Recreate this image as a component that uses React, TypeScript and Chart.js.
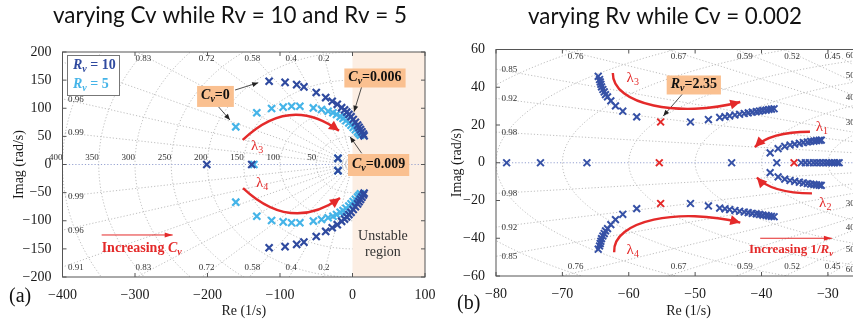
import { useEffect, useRef } from 'react';
import { Chart, registerables } from 'chart.js';

Chart.register(...registerables);

// ---------------- Panel (a): varying Cv while Rv = 10 and Rv = 5 ----------------
const rv10BranchRe = [-115, -93, -77, -67, -50, -37, -28, -21, -15, -11, -8, -5, -2, 1, 4, 7, 9, 11, 13, 15, 16];
const rv10BranchIm = [148, 146, 142, 138, 128, 119, 112.5, 107, 101, 97, 93, 89, 85, 80, 75, 70, 66, 62, 58, 54, 51];
const rv10PairRe = [-20];
const rv10PairIm = [11];
const rv10RealRe = [-201, -139];

const rv5BranchRe = [-161, -132, -111.6, -95.6, -84, -72.6, -54, -42.7, -33.6, -27, -22, -17, -13, -9, -5, -2, 1, 4, 7, 9, 11];
const rv5BranchIm = [67, 92, 99.5, 102, 103.6, 103.6, 100.6, 97.7, 94.7, 92, 89, 85, 82, 78, 74, 70, 66, 62, 58, 55, 52];
const rv5PairRe = [-20];
const rv5PairIm = [11];
const rv5RealRe = [-136];

const aXTicks = [-400, -300, -200, -100, 0, 100];
const aYTicks = [-200, -150, -100, -50, 0, 50, 100, 150, 200];
const aZetas = [0.2, 0.4, 0.58, 0.72, 0.83, 0.91, 0.96, 0.99];
const aWns = [50, 100, 150, 200, 250, 300, 350, 400];

// ---------------- Panel (b): varying Rv while Cv = 0.002 ----------------
const l3Re = [-64.6, -64.4, -64.3, -64.2, -64.1, -63.9, -63.7, -63.5, -63.2, -62.7, -62, -60.9, -58.8, -50.7, -48, -46.3, -45.5, -44.8, -44, -43.3, -42.6, -42, -41.4, -40.8, -40.3, -39.8, -39.3, -38.9, -38.5, -38.1];
const l3Im = [45.8, 44.1, 42.8, 41.6, 40.2, 38.8, 37.5, 36.1, 34.9, 32.8, 30.1, 27.3, 24.3, 21.6, 22.9, 24, 24.4, 24.8, 25.3, 25.7, 26.1, 26.4, 26.8, 27.1, 27.4, 27.7, 27.9, 28.2, 28.4, 28.6];
const l1Re = [-38.7, -37.5, -36.5, -35.7, -35, -34.3, -33.7, -33.1, -32.6, -32.1, -31.7, -31.3, -31];
const l1Im = [5.2, 7.5, 8.7, 9.4, 9.9, 10.3, 10.7, 11, 11.3, 11.5, 11.7, 11.9, 12];
const rvRealRe = [-78.4, -73.3, -66.3, -44.5, -37.7, -34, -33.4, -32.8, -32.2, -31.7, -31.2, -30.7, -30.2, -29.8, -29.4, -29, -28.6, -28.3];
const redPairRe = [-55.2];
const redPairIm = [21.6];
const redRealRe = [-55.4, -35.1];

const bXTicks = [-80, -70, -60, -50, -40, -30];
const bYTicks = [-60, -40, -20, 0, 20, 40, 60];
const bZetas = [0.45, 0.52, 0.59, 0.67, 0.76, 0.85, 0.92, 0.98];
const bWns = [10, 20, 30, 40, 50, 60, 70, 80, 90, 100];
const bWnLabels = [30, 40, 50, 60];

// ---------------- styles ----------------
const DARK = '#2F4A9F';
const LIGHT = '#45B4E8';
const BLUE_B = '#3651A6';
const RED = '#E42A2A';
const ORANGE = '#FAC090';
const SERIF = '"Liberation Serif", "Times New Roman", serif';
const SANS = 'Lato, "Open Sans", sans-serif';

type Seg = { t: string; it?: boolean; b?: boolean; sub?: boolean };

function pts(re: number[], im: number[]) {
  return re.map((r, i) => ({ x: r, y: im[i] }));
}
function conjPts(re: number[], im: number[]) {
  return [...pts(re, im), ...pts(re, im.map((v) => -v))];
}
function realPts(re: number[]) {
  return re.map((r) => ({ x: r, y: 0 }));
}
function fmtTick(v: number) {
  return v < 0 ? '\u2212' + Math.abs(v) : String(v);
}

function segFont(s: Seg, size: number) {
  return `${s.it ? 'italic ' : ''}${s.b ? 'bold ' : ''}${s.sub ? Math.round(size * 0.68) : size}px ${SERIF}`;
}
function richWidth(ctx: any, segs: Seg[], size: number) {
  let w = 0;
  for (const s of segs) {
    ctx.font = segFont(s, size);
    w += ctx.measureText(s.t).width;
  }
  return w;
}
function drawRich(ctx: any, segs: Seg[], x: number, y: number, size: number, color: string, align = 'left') {
  const w = richWidth(ctx, segs, size);
  let cx = align === 'center' ? x - w / 2 : align === 'right' ? x - w : x;
  ctx.fillStyle = color;
  ctx.textBaseline = 'middle';
  ctx.textAlign = 'left';
  for (const s of segs) {
    ctx.font = segFont(s, size);
    ctx.fillText(s.t, cx, y + (s.sub ? size * 0.3 : 0));
    cx += ctx.measureText(s.t).width;
  }
  return w;
}
function arrowHead(ctx: any, x: number, y: number, ang: number, len: number, half: number, color: string) {
  ctx.save();
  ctx.translate(x, y);
  ctx.rotate(ang);
  ctx.beginPath();
  ctx.moveTo(0, 0);
  ctx.lineTo(-len, half);
  ctx.lineTo(-len, -half);
  ctx.closePath();
  ctx.fillStyle = color;
  ctx.fill();
  ctx.restore();
}
function helpers(chart: any) {
  const xs = chart.scales.x;
  const ys = chart.scales.y;
  return {
    X: (v: number) => xs.getPixelForValue(v),
    Y: (v: number) => ys.getPixelForValue(v),
    xs,
    ys,
  };
}
function lineArrow(chart: any, p0: number[], p1: number[], color: string, lw: number, len: number, half: number) {
  const { ctx } = chart;
  const { X, Y } = helpers(chart);
  const x0 = X(p0[0]), y0 = Y(p0[1]), x1 = X(p1[0]), y1 = Y(p1[1]);
  ctx.save();
  ctx.strokeStyle = color;
  ctx.lineWidth = lw;
  ctx.beginPath();
  ctx.moveTo(x0, y0);
  ctx.lineTo(x1, y1);
  ctx.stroke();
  arrowHead(ctx, x1, y1, Math.atan2(y1 - y0, x1 - x0), len, half, color);
  ctx.restore();
}
function curveArrow(chart: any, p: number[][], color: string) {
  const { ctx } = chart;
  const { X, Y } = helpers(chart);
  const q = p.map((v) => [X(v[0]), Y(v[1])]);
  ctx.save();
  ctx.strokeStyle = color;
  ctx.lineWidth = 2.4;
  ctx.beginPath();
  ctx.moveTo(q[0][0], q[0][1]);
  if (q.length === 3) ctx.quadraticCurveTo(q[1][0], q[1][1], q[2][0], q[2][1]);
  else ctx.bezierCurveTo(q[1][0], q[1][1], q[2][0], q[2][1], q[3][0], q[3][1]);
  ctx.stroke();
  const e = q[q.length - 1], c = q[q.length - 2];
  arrowHead(ctx, e[0], e[1], Math.atan2(e[1] - c[1], e[0] - c[0]), 10, 5, color);
  ctx.restore();
}
function orangeBox(chart: any, segs: Seg[], cx: number, cy: number, h: number) {
  const { ctx } = chart;
  const { X, Y } = helpers(chart);
  const px = X(cx), py = Y(cy);
  const w = richWidth(ctx, segs, 14) + 8;
  ctx.save();
  ctx.fillStyle = ORANGE;
  ctx.fillRect(px - w / 2, py - h / 2, w, h);
  drawRich(ctx, segs, px, py - 1, 14, '#111', 'center');
  ctx.restore();
}

function drawSGrid(chart: any, zetas: number[], wns: number[]) {
  const { ctx, chartArea: ca } = chart;
  const { X, Y } = helpers(chart);
  ctx.save();
  ctx.beginPath();
  ctx.rect(ca.left, ca.top, ca.width, ca.height);
  ctx.clip();
  ctx.strokeStyle = '#b8b8b8';
  ctx.lineWidth = 0.9;
  ctx.setLineDash([1.2, 2]);
  const R = 1000;
  for (const z of zetas) {
    const s = Math.sqrt(1 - z * z);
    for (const sg of [1, -1]) {
      ctx.beginPath();
      ctx.moveTo(X(0), Y(0));
      ctx.lineTo(X(-z * R), Y(sg * s * R));
      ctx.stroke();
    }
  }
  for (const r of wns) {
    ctx.beginPath();
    for (let k = 0; k <= 180; k++) {
      const a = Math.PI / 2 + (k * Math.PI) / 180;
      const px = X(r * Math.cos(a)), py = Y(r * Math.sin(a));
      if (k) ctx.lineTo(px, py);
      else ctx.moveTo(px, py);
    }
    ctx.stroke();
  }
  ctx.strokeStyle = '#8a97cc';
  ctx.beginPath();
  ctx.moveTo(ca.left, Y(0));
  ctx.lineTo(ca.right, Y(0));
  ctx.stroke();
  ctx.restore();
}

function drawZetaLabels(chart: any, zetas: number[]) {
  const { ctx, chartArea: ca } = chart;
  const { X, Y, xs, ys } = helpers(chart);
  ctx.save();
  ctx.font = `9px ${SERIF}`;
  ctx.fillStyle = '#333';
  ctx.textBaseline = 'middle';
  for (const z of zetas) {
    const t = Math.sqrt(1 - z * z) / z;
    for (const sg of [1, -1]) {
      const yEdge = sg > 0 ? ys.max : ys.min;
      const xInt = -Math.abs(yEdge) / t;
      if (xInt >= xs.min) {
        const yd = ys.getValueForPixel(sg > 0 ? ca.top + 3.5 : ca.bottom - 3.5);
        const xd = -Math.abs(yd) / t;
        ctx.textAlign = 'center';
        ctx.fillText(String(z), X(xd), sg > 0 ? ca.top + 7 : ca.bottom - 9);
      } else {
        const yl = sg * t * Math.abs(xs.min);
        ctx.textAlign = 'left';
        ctx.fillText(String(z), ca.left + 5.5, Y(yl) + 0.5);
      }
    }
  }
  ctx.restore();
}

function drawFrame(chart: any, xTicks: number[], yTicks: number[]) {
  const { ctx, chartArea: ca } = chart;
  const { X, Y } = helpers(chart);
  ctx.save();
  ctx.strokeStyle = '#555';
  ctx.lineWidth = 1;
  ctx.strokeRect(ca.left, ca.top, ca.width, ca.height);
  ctx.beginPath();
  for (const v of xTicks) {
    const x = X(v);
    ctx.moveTo(x, ca.bottom);
    ctx.lineTo(x, ca.bottom - 4);
    ctx.moveTo(x, ca.top);
    ctx.lineTo(x, ca.top + 4);
  }
  for (const v of yTicks) {
    const y = Y(v);
    ctx.moveTo(ca.left, y);
    ctx.lineTo(ca.left + 4, y);
    ctx.moveTo(ca.right, y);
    ctx.lineTo(ca.right - 4, y);
  }
  ctx.stroke();
  ctx.restore();
}

function drawTitle(chart: any, text: string, cx: number, cy: number, targetW: number) {
  const { ctx } = chart;
  ctx.save();
  ctx.font = `20px ${SANS}`;
  const w = ctx.measureText(text).width;
  const size = (20 * targetW) / w;
  ctx.font = `${size.toFixed(2)}px ${SANS}`;
  ctx.fillStyle = '#111';
  ctx.textAlign = 'center';
  ctx.textBaseline = 'middle';
  ctx.fillText(text, cx, cy);
  ctx.restore();
}

// ---------------- panel specific decorations ----------------
const Cv: Seg[] = [{ t: 'C', it: true, b: true }, { t: 'v', it: true, b: true, sub: true }];
const Rv: Seg[] = [{ t: 'R', it: true, b: true }, { t: 'v', it: true, b: true, sub: true }];

const panelAPlugin = {
  id: 'panelA',
  beforeDatasetsDraw(chart: any) {
    const { ctx, chartArea: ca } = chart;
    const { X } = helpers(chart);
    ctx.save();
    ctx.fillStyle = '#FCEEE3';
    ctx.fillRect(X(0), ca.top, ca.right - X(0), ca.height);
    ctx.restore();
    drawSGrid(chart, aZetas, aWns);
    drawZetaLabels(chart, aZetas);
    const { Y } = helpers(chart);
    ctx.save();
    ctx.font = `9px ${SERIF}`;
    ctx.fillStyle = '#333';
    ctx.textAlign = 'right';
    ctx.textBaseline = 'middle';
    for (const r of aWns) ctx.fillText(String(r), X(-r), Y(0) - 7);
    ctx.restore();
    ctx.save();
    ctx.font = `14px ${SERIF}`;
    ctx.fillStyle = '#333';
    ctx.textAlign = 'center';
    ctx.textBaseline = 'middle';
    ctx.fillText('Unstable', X(42), Y(-127));
    ctx.fillText('region', X(42), Y(-155.5));
    ctx.restore();
  },
  afterDatasetsDraw(chart: any) {
    const { ctx, chartArea: ca } = chart;
    const { X, Y } = helpers(chart);
    drawFrame(chart, aXTicks, aYTicks);
    const lx = ca.left + 4.5, ly = ca.top + 3;
    ctx.save();
    ctx.fillStyle = '#fff';
    ctx.fillRect(lx, ly, 52, 40);
    ctx.strokeStyle = '#777';
    ctx.lineWidth = 1;
    ctx.strokeRect(lx + 0.5, ly + 0.5, 52, 40);
    drawRich(ctx, [...Rv, { t: ' = 10', b: true }], lx + 6, ly + 10, 14, DARK);
    drawRich(ctx, [...Rv, { t: ' = 5', b: true }], lx + 6, ly + 29, 14, LIGHT);
    ctx.restore();
    lineArrow(chart, [-162, 132.4], [-130, 145.4], '#222', 0.8, 6, 2.5);
    lineArrow(chart, [-185, 102.8], [-169, 79.1], '#222', 0.8, 6, 2.5);
    lineArrow(chart, [12.7, 138.3], [2.1, 93.9], '#222', 0.8, 6, 2.5);
    lineArrow(chart, [12.7, 19.9], [-3.4, 49.4], '#222', 0.8, 6, 2.5);
    orangeBox(chart, [...Cv, { t: '=0', b: true }], -189, 121, 21);
    orangeBox(chart, [...Cv, { t: '=0.006', b: true }], 31, 153.8, 19);
    orangeBox(chart, [...Cv, { t: '=0.009', b: true }], 36, -0.9, 22);
    curveArrow(chart, [[-151.4, 43.6], [-86.2, 124.4], [-18.6, 59.9]], RED);
    curveArrow(chart, [[-151, -41.8], [-84.8, -121.8], [-17.2, -59.6]], RED);
    ctx.save();
    drawRich(ctx, [{ t: '\u03BB' }, { t: '3', sub: true }], X(-131.7), Y(32.9), 15, RED, 'center');
    drawRich(ctx, [{ t: '\u03BB' }, { t: '4', sub: true }], X(-124.8), Y(-32.9), 15, RED, 'center');
    drawRich(ctx, [{ t: 'Increasing ', b: true }, ...Cv], X(-346), Y(-148.4), 14, RED, 'left');
    ctx.restore();
    lineArrow(chart, [-346, -125.3], [-248, -125.3], RED, 1, 8, 2.5);
  },
  afterDraw(chart: any) {
    const { ctx } = chart;
    drawTitle(chart, 'varying Cv while Rv = 10 and Rv = 5', 230, 16, 354);
    ctx.save();
    ctx.font = `20px ${SERIF}`;
    ctx.fillStyle = '#111';
    ctx.textAlign = 'left';
    ctx.textBaseline = 'middle';
    ctx.fillText('(a)', 9, 297);
    ctx.restore();
  },
};

const panelBPlugin = {
  id: 'panelB',
  beforeDatasetsDraw(chart: any) {
    const { ctx } = chart;
    const { X, Y, xs } = helpers(chart);
    drawSGrid(chart, bZetas, bWns);
    drawZetaLabels(chart, bZetas);
    ctx.save();
    ctx.font = `9px ${SERIF}`;
    ctx.fillStyle = '#333';
    ctx.textAlign = 'left';
    ctx.textBaseline = 'middle';
    for (const r of bWnLabels) {
      const yy = Math.sqrt(r * r - xs.max * xs.max);
      ctx.fillText(String(r), X(-27.3), Y(yy) - 2);
      ctx.fillText(String(r), X(-27.3), Y(-yy) + 2);
    }
    ctx.restore();
  },
  afterDatasetsDraw(chart: any) {
    const { ctx } = chart;
    const { X, Y } = helpers(chart);
    drawFrame(chart, bXTicks, bYTicks);
    lineArrow(chart, [-51.8, 36.9], [-54.8, 24.8], '#222', 0.8, 6, 2.5);
    orangeBox(chart, [...Rv, { t: '=2.35', b: true }], -50.2, 41.2, 19);
    curveArrow(chart, [[-62.4, 47.6], [-62.5, 30.6], [-52.3, 23.7], [-43.2, 32.2]], RED);
    curveArrow(chart, [[-62.2, -47.4], [-62.5, -30.5], [-52.3, -23.5], [-43.2, -31.7]], RED);
    curveArrow(chart, [[-32.7, 16.4], [-38.7, 16.3], [-41, 8.3]], RED);
    curveArrow(chart, [[-32.4, -16.2], [-38.5, -16.1], [-40.7, -7.8]], RED);
    ctx.save();
    drawRich(ctx, [{ t: '\u03BB' }, { t: '3', sub: true }], X(-59.4), Y(44.9), 15, RED, 'center');
    drawRich(ctx, [{ t: '\u03BB' }, { t: '4', sub: true }], X(-59.4), Y(-46.2), 15, RED, 'center');
    drawRich(ctx, [{ t: '\u03BB' }, { t: '1', sub: true }], X(-30.9), Y(18.9), 15, RED, 'center');
    drawRich(ctx, [{ t: '\u03BB' }, { t: '2', sub: true }], X(-30.4), Y(-21.3), 15, RED, 'center');
    drawRich(ctx, [{ t: 'Increasing 1/', b: true }, ...Rv], X(-41.9), Y(-46.2), 13, RED, 'left');
    ctx.restore();
    lineArrow(chart, [-40.2, -40], [-29.4, -40], RED, 1, 8, 2.5);
  },
  afterDraw(chart: any) {
    const { ctx } = chart;
    drawTitle(chart, 'varying Rv while Cv = 0.002', 225, 17, 274);
    ctx.save();
    ctx.font = `20px ${SERIF}`;
    ctx.fillStyle = '#111';
    ctx.textAlign = 'left';
    ctx.textBaseline = 'middle';
    ctx.fillText('(b)', 17, 304);
    ctx.restore();
  },
};

function scalesFor(o: any) {
  const tickFont = { family: SERIF, size: 14 };
  return {
    x: {
      type: 'linear',
      min: o.xmin,
      max: o.xmax,
      afterBuildTicks: (s: any) => {
        s.ticks = o.xTicks.map((v: number) => ({ value: v }));
      },
      afterFit: (s: any) => {
        s.height = o.xAxisH;
      },
      grid: { display: false },
      border: { display: false },
      ticks: { autoSkip: false, maxRotation: 0, padding: 2, color: '#1a1a1a', font: tickFont, callback: (v: any) => fmtTick(Number(v)) },
      title: { display: true, text: 'Re (1/s)', color: '#1a1a1a', font: tickFont, padding: { top: 0, bottom: 2 } },
    },
    y: {
      type: 'linear',
      min: o.ymin,
      max: o.ymax,
      afterBuildTicks: (s: any) => {
        s.ticks = o.yTicks.map((v: number) => ({ value: v }));
      },
      afterFit: (s: any) => {
        s.width = o.yAxisW;
      },
      grid: { display: false },
      border: { display: false },
      ticks: { autoSkip: false, padding: 3, color: '#1a1a1a', font: tickFont, callback: (v: any) => fmtTick(Number(v)) },
      title: { display: true, text: 'Imag (rad/s)', color: '#1a1a1a', font: tickFont, padding: { top: o.yTitlePad, bottom: 0 } },
    },
  };
}

function crossSet(label: string, data: any[], color: string, r: number, w: number) {
  return {
    label,
    data,
    showLine: false,
    pointStyle: 'crossRot',
    pointRadius: r,
    pointHoverRadius: r,
    pointBorderColor: color,
    pointBackgroundColor: color,
    pointBorderWidth: w,
    borderColor: color,
    backgroundColor: color,
  };
}

const commonOpts = {
  responsive: false,
  animation: false,
  events: [],
  plugins: { legend: { display: false }, tooltip: { enabled: false }, title: { display: false } },
};

export default function App() {
  const refA = useRef<HTMLCanvasElement>(null);
  const refB = useRef<HTMLCanvasElement>(null);

  useEffect(() => {
    const chartA = new Chart(refA.current as any, {
      type: 'scatter',
      data: {
        datasets: [
          crossSet('Rv = 10', [...conjPts(rv10BranchRe, rv10BranchIm), ...conjPts(rv10PairRe, rv10PairIm), ...realPts(rv10RealRe)], DARK, 5, 2.2),
          crossSet('Rv = 5', [...conjPts(rv5BranchRe, rv5BranchIm), ...conjPts(rv5PairRe, rv5PairIm), ...realPts(rv5RealRe)], LIGHT, 5, 2.2),
        ],
      } as any,
      options: {
        ...commonOpts,
        layout: { padding: { left: 0, right: 15, top: 52, bottom: 0 } },
        scales: scalesFor({ xmin: -400, xmax: 100, ymin: -200, ymax: 200, xTicks: aXTicks, yTicks: aYTicks, xAxisH: 45, yAxisW: 62.5, yTitlePad: 11 }),
      } as any,
      plugins: [panelAPlugin],
    });
    const chartB = new Chart(refB.current as any, {
      type: 'scatter',
      data: {
        datasets: [
          crossSet('Rv = 2.35', [...conjPts(redPairRe, redPairIm), ...realPts(redRealRe)], RED, 4.8, 2),
          crossSet('Rv varied', [...conjPts(l3Re, l3Im), ...conjPts(l1Re, l1Im), ...realPts(rvRealRe)], BLUE_B, 4.8, 2),
        ],
      } as any,
      options: {
        ...commonOpts,
        layout: { padding: { left: 0, right: 19, top: 49.5, bottom: 0 } },
        scales: scalesFor({ xmin: -80, xmax: -22, ymin: -60, ymax: 60, xTicks: bXTicks, yTicks: bYTicks, xAxisH: 46, yAxisW: 56, yTitlePad: 8.6 }),
      } as any,
      plugins: [panelBPlugin],
    });
    return () => {
      chartA.destroy();
      chartB.destroy();
    };
  }, []);

  return (
    <div style={{ position: 'fixed', left: 0, top: 0, width: 853, height: 322, overflow: 'hidden', background: '#fff' }}>
      <canvas ref={refA} width={440} height={322} style={{ position: 'absolute', left: 0, top: 0 }} />
      <canvas ref={refB} width={460} height={322} style={{ position: 'absolute', left: 440, top: 0 }} />
    </div>
  );
}
